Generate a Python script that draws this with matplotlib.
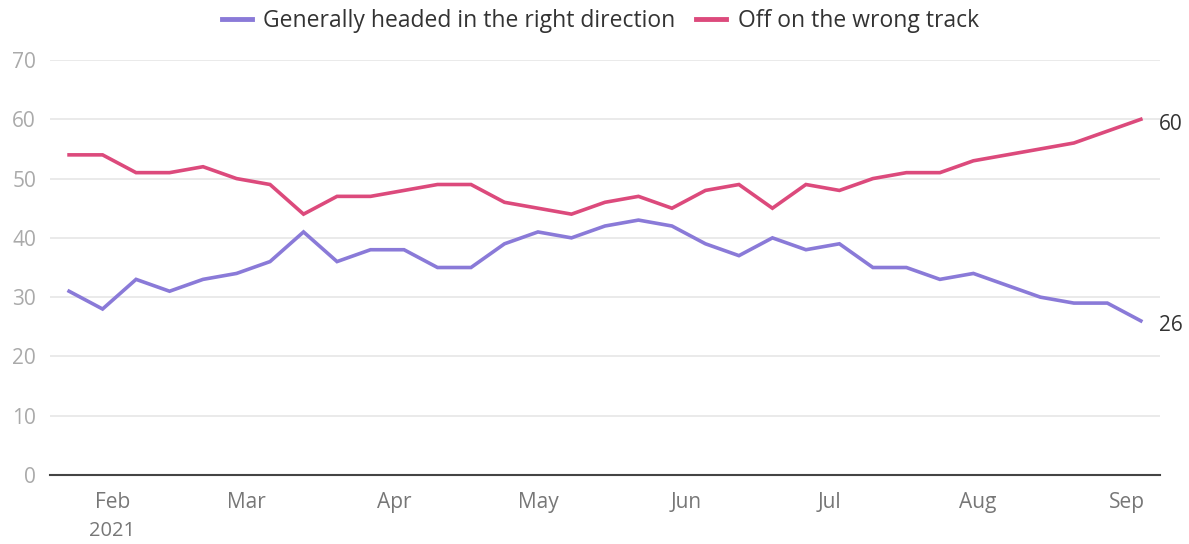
import pandas as pd
import matplotlib.pyplot as plt
import matplotlib.dates as mdates

plt.rcParams['font.family'] = ['Open Sans', 'DejaVu Sans']

# weekly poll, Jan 23 - Sep 4 2021
dates = pd.date_range('2021-01-23', periods=33, freq='7D')
right_direction = [31, 28, 33, 31, 33, 34, 36, 41, 36, 38, 38, 35, 35, 39, 41, 40, 42,
                   43, 42, 39, 37, 40, 38, 39, 35, 35, 33, 34, 32, 30, 29, 29, 26]
wrong_track = [54, 54, 51, 51, 52, 50, 49, 44, 47, 47, 48, 49, 49, 46, 45, 44, 46,
               47, 45, 48, 49, 45, 49, 48, 50, 51, 51, 53, 54, 55, 56, 58, 60]
yticks = [0, 10, 20, 30, 40, 50, 60, 70]

purple = '#8a7ad8'
pink = '#dc4a7c'

fig = plt.figure(figsize=(11.89, 5.44), dpi=100)
ax = fig.add_axes([0.042, 0.1268, 0.9336, 0.7629])

ax.plot(dates, right_direction, color=purple, lw=2.6, label='Generally headed in the right direction',
        solid_joinstyle='miter')
ax.plot(dates, wrong_track, color=pink, lw=2.6, label='Off on the wrong track', solid_joinstyle='miter')

ax.set_ylim(0, 70)
ax.set_yticks(yticks)
ax.set_xlim(pd.Timestamp('2021-01-19'), pd.Timestamp('2021-09-08'))
ax.grid(axis='y', color='#e6e6e6', lw=1.2)
ax.set_axisbelow(True)
for s in ['top', 'right', 'left']:
    ax.spines[s].set_visible(False)
ax.spines['bottom'].set_color('#444444')
ax.spines['bottom'].set_linewidth(1.5)

ax.xaxis.set_major_locator(mdates.MonthLocator(bymonthday=1))
ax.xaxis.set_major_formatter(mdates.DateFormatter('%b'))
ax.tick_params(axis='x', length=0, pad=12, labelsize=15, labelcolor='#777777')
ax.tick_params(axis='y', length=0, pad=10, labelsize=15, labelcolor='#aaaaaa')
ax.text(pd.Timestamp('2021-02-01'), -0.136, '2021', transform=ax.get_xaxis_transform(),
        ha='center', va='center', fontsize=14.5, color='#777777')

ax.annotate(str(wrong_track[-1]), (dates[-1], wrong_track[-1]), xytext=(13, -4),
            textcoords='offset points', fontsize=15, color='#333333', va='center')
ax.annotate(str(right_direction[-1]), (dates[-1], right_direction[-1]), xytext=(13, -3),
            textcoords='offset points', fontsize=15, color='#333333', va='center')

leg = fig.legend(loc='upper center', bbox_to_anchor=(0.505, 1.022), ncol=2, frameon=False,
                 fontsize=16.5, handlelength=1.3, handletextpad=0.5, columnspacing=0.9)
for t in leg.get_texts():
    t.set_color('#333333')
for h in leg.get_lines():
    h.set_linewidth(3.5)

fig.savefig('out.png', dpi=100)
